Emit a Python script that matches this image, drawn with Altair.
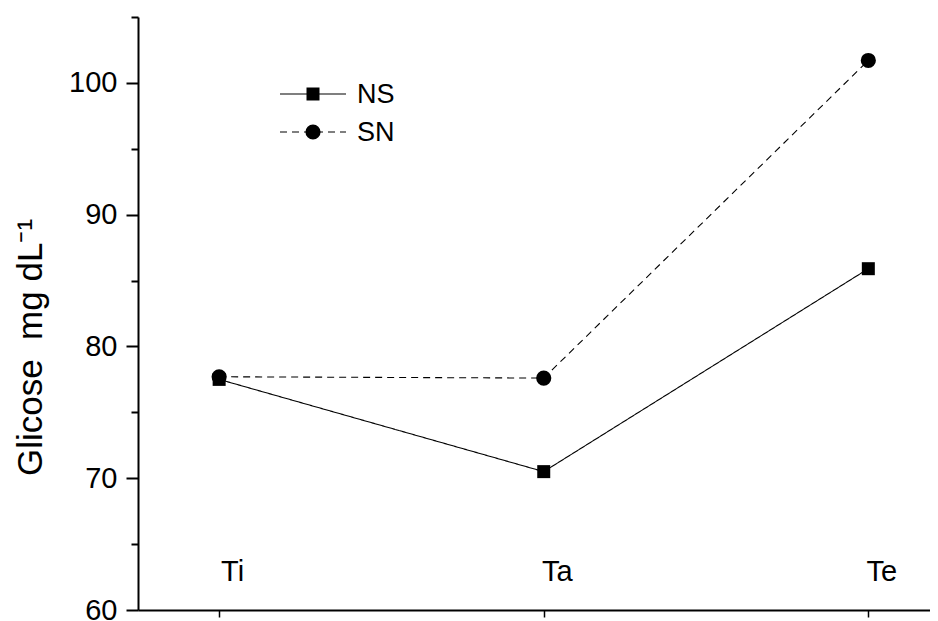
import altair as alt
import pandas as pd

categories = ["Ti", "Ta", "Te"]
positions = [1, 2, 3]
series = ["NS", "SN"]
ns_values = [77.5, 70.5, 85.9]
sn_values = [77.7, 77.6, 101.7]
y_ticks = [60, 65, 70, 75, 80, 85, 90, 95, 100, 105]

rows = []
for c, p, v in zip(categories, positions, ns_values):
    rows.append({"cat": c, "pos": p, "value": v, "series": "NS"})
for c, p, v in zip(categories, positions, sn_values):
    rows.append({"cat": c, "pos": p, "value": v, "series": "SN"})
df = pd.DataFrame(rows)
legend_df = pd.DataFrame({"series": series})

FONT = "Liberation Sans"
LEGEND_ROW_Y = [77, 115]  # pixel rows of the in-plot legend (style)

dash_scale = alt.Scale(domain=series, range=[[1, 0], [7, 5]])
shape_scale = alt.Scale(domain=series, range=["square", "circle"])
size_scale = alt.Scale(domain=series, range=[169, 230])

label_expr = "[''," + ",".join("'%s'" % c for c in categories) + "][datum.value]"

x_enc = alt.X(
    "pos:Q",
    scale=alt.Scale(domain=[0.75, 3.19], nice=False, zero=False),
    axis=alt.Axis(
        values=positions,
        labelExpr=label_expr,
        title=None,
        grid=False,
        tickSize=7,
        tickWidth=1.5,
        tickColor="black",
        domainColor="black",
        domainWidth=2,
        labelFont=FONT,
        labelFontSize=29,
        labelColor="black",
        labelBaseline="alphabetic",
        labelPadding=-37,
        labelOffset=13,
        labelAlign="center",
    ),
)
y_enc = alt.Y(
    "value:Q",
    scale=alt.Scale(domain=[60, 105], nice=False, zero=False),
    axis=alt.Axis(
        values=y_ticks,
        labelExpr="datum.value % 10 === 0 ? datum.label : ''",
        title="Glicose\u00a0\u00a0mg\u00a0dL\u207b\u00b9",
        titleFont=FONT,
        titleFontSize=35,
        titleFontWeight="normal",
        titleColor="black",
        titleAngle=270,
        titleAlign="center",
        titleBaseline="alphabetic",
        titleX=-97,
        titleY=330,
        grid=False,
        tickSize={"condition": {"test": "datum.value % 10 === 0", "value": 12}, "value": 7},
        tickWidth=2,
        tickColor="black",
        domainColor="black",
        domainWidth=2,
        labelFont=FONT,
        labelFontSize=29,
        labelColor="black",
        labelPadding=9,
    ),
)

lines = alt.Chart(df).mark_line(color="black", strokeWidth=1.1).encode(
    x=x_enc,
    y=y_enc,
    strokeDash=alt.StrokeDash("series:N", scale=dash_scale, legend=None),
    detail="series:N",
)
points = alt.Chart(df).mark_point(filled=True, color="black", opacity=1).encode(
    x="pos:Q",
    y="value:Q",
    shape=alt.Shape("series:N", scale=shape_scale, legend=None),
    size=alt.Size("series:N", scale=size_scale, legend=None),
)

legend_layers = []
for name, row_y in zip(series, LEGEND_ROW_Y):
    base = alt.Chart(legend_df).transform_filter(alt.datum.series == name)
    legend_layers.append(
        base.mark_rule(color="black", strokeWidth=1.1).encode(
            x=alt.value(142),
            x2=alt.value(208),
            y=alt.value(row_y),
            strokeDash=alt.StrokeDash("series:N", scale=dash_scale, legend=None),
        )
    )
    legend_layers.append(
        base.mark_point(filled=True, color="black", opacity=1).encode(
            x=alt.value(175),
            y=alt.value(row_y),
            shape=alt.Shape("series:N", scale=shape_scale, legend=None),
            size=alt.Size("series:N", scale=size_scale, legend=None),
        )
    )
    legend_layers.append(
        base.mark_text(
            align="left", baseline="middle", font=FONT, fontSize=27, color="black"
        ).encode(
            x=alt.value(219),
            y=alt.value(row_y + 1),
            text="series:N",
        )
    )

chart = (
    alt.layer(lines, points, *legend_layers)
    .properties(
        width=792,
        height=593,
        padding={"left": 130, "top": 9, "right": 0, "bottom": 11},
        autosize=alt.AutoSizeParams(type="none"),
        background="white",
    )
    .configure_view(stroke=None)
)

chart.save("out.html", embed_options={"renderer": "svg", "actions": False})
